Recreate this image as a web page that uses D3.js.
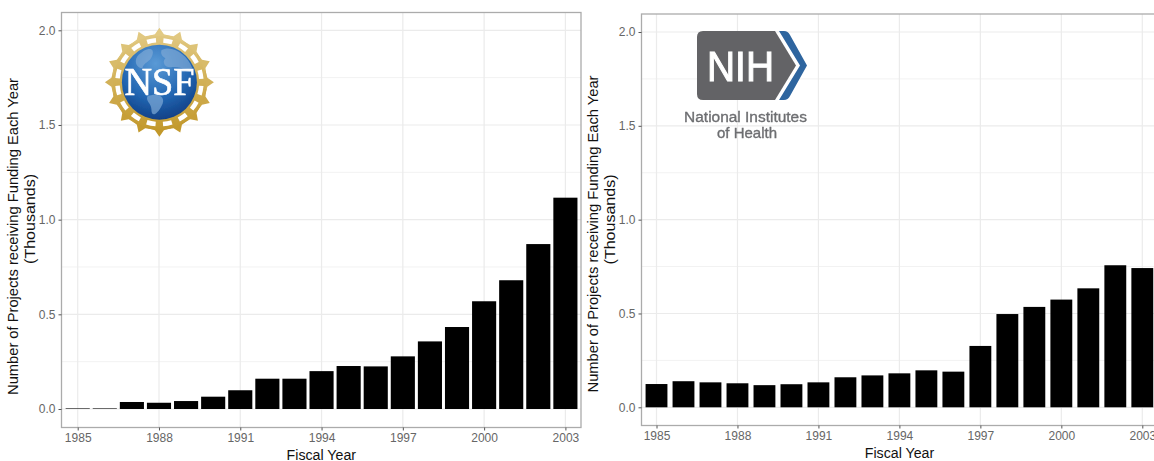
<!DOCTYPE html>
<html>
<head>
<meta charset="utf-8">
<script src="https://cdn.jsdelivr.net/npm/d3@7"></script>
<style>
    html, body { margin: 0; padding: 0; background: #fff; overflow: hidden; }
    svg { display: block; font-family: "Liberation Sans", Arial, sans-serif; }
</style>
</head>
<body>
<svg id="chart" width="1154" height="461"></svg>
<script>
// values, in thousands of projects
const years = [1985, 1986, 1987, 1988, 1989, 1990, 1991, 1992, 1993, 1994, 1995, 1996, 1997, 1998, 1999, 2000, 2001, 2002, 2003];
const nsfValues = [0.003, 0.003, 0.037, 0.033, 0.042, 0.065, 0.099, 0.16, 0.16, 0.2, 0.227, 0.225, 0.278, 0.357, 0.433, 0.569, 0.68, 0.871, 1.116];
const nihValues = [0.124, 0.139, 0.133, 0.128, 0.118, 0.123, 0.133, 0.16, 0.17, 0.181, 0.197, 0.19, 0.327, 0.497, 0.535, 0.574, 0.634, 0.757, 0.742];
const xTicks = [1985, 1988, 1991, 1994, 1997, 2000, 2003];
const yTicks = [0, 0.5, 1, 1.5, 2];
const yMinor = [0.25, 0.75, 1.25, 1.75];

const svg = d3.select("#chart");
const defs = svg.append("defs");

// logos are soft in the reference
defs.append("filter").attr("id", "soft")
    .append("feGaussianBlur").attr("stdDeviation", 0.45);

// stretch a text along its own direction to a measured width
function fitText(sel, transform, width) {
    const k = width / sel.node().getComputedTextLength();
    sel.attr("transform", transform + " scale(" + k + ",1)");
}

function drawPanel(values, box) {
    const x = d3.scaleLinear().domain([1985, 2003]).range([box.x1985, box.x2003]);
    const y = d3.scaleLinear().domain([0, 2]).range([box.y0, box.y2]);
    const barW = (x(1986) - x(1985)) * box.barFrac;
    const G = svg.append("g");

    // grid
    G.selectAll(".minor").data(yMinor).enter().append("line")
        .attr("x1", box.left).attr("x2", box.right)
        .attr("y1", d => y(d)).attr("y2", d => y(d))
        .attr("stroke", "#f2f2f2").attr("stroke-width", 1);
    G.selectAll(".majory").data(yTicks).enter().append("line")
        .attr("x1", box.left).attr("x2", box.right)
        .attr("y1", d => y(d)).attr("y2", d => y(d))
        .attr("stroke", "#ebebeb").attr("stroke-width", 1.2);
    G.selectAll(".majorx").data(xTicks).enter().append("line")
        .attr("x1", d => x(d)).attr("x2", d => x(d))
        .attr("y1", box.top).attr("y2", box.bottom)
        .attr("stroke", "#ebebeb").attr("stroke-width", 1.2);

    // bars
    G.selectAll(".bar").data(values).enter().append("rect")
        .attr("x", (d, i) => x(years[i]) - barW / 2)
        .attr("width", barW)
        .attr("y", d => y(d))
        .attr("height", d => y(0) - y(d))
        .attr("fill", "#000");

    // panel border
    G.append("rect")
        .attr("x", box.left).attr("y", box.top)
        .attr("width", box.right - box.left).attr("height", box.bottom - box.top)
        .attr("fill", "none").attr("stroke", "#ababab").attr("stroke-width", 1.3);

    // axes
    const xAxis = G.append("g")
        .attr("transform", "translate(0," + box.bottom + ")")
        .call(d3.axisBottom(x).tickValues(xTicks).tickFormat(d3.format("d")).tickSize(3).tickPadding(3));
    const yAxis = G.append("g")
        .attr("transform", "translate(" + box.left + ",0)")
        .call(d3.axisLeft(y).tickValues(yTicks).tickFormat(d3.format(".1f")).tickSize(3).tickPadding(3));
    [xAxis, yAxis].forEach(a => {
        a.select(".domain").remove();
        a.selectAll("line").attr("stroke", "#555");
        a.selectAll("text").attr("fill", "#666").attr("font-size", 12).attr("font-family", "Liberation Sans");
    });

    // titles
    const xt = G.append("text")
        .attr("text-anchor", "middle").attr("font-size", 15.3).attr("fill", "#111")
        .text("Fiscal Year");
    fitText(xt, "translate(" + box.xTitle + "," + box.xTitleY + ")", 69.5);
    const yt = G.append("text")
        .attr("text-anchor", "middle").attr("font-size", 15.3).attr("fill", "#111")
        .text("Number of Projects receiving Funding Each Year");
    fitText(yt, "translate(" + box.yTitle + "," + box.yTitleMid + ") rotate(-90)", 317);
    const yt2 = G.append("text")
        .attr("text-anchor", "middle").attr("font-size", 15.3).attr("fill", "#111")
        .text("(Thousands)");
    fitText(yt2, "translate(" + (box.yTitle + 17) + "," + box.yTitle2Mid + ") rotate(-90)", 90);
}

drawPanel(nsfValues, {
    left: 61.5, right: 581, top: 12.5, bottom: 427.5, barFrac: 0.89,
    x1985: 77.7, x2003: 565.4, y0: 409, y2: 30.3,
    xTitle: 321.3, xTitleY: 460, yTitle: 18, yTitleMid: 236.5, yTitle2Mid: 219
});
drawPanel(nihValues, {
    left: 641.5, right: 1160, top: 14, bottom: 425.5, barFrac: 0.81,
    x1985: 656.5, x2003: 1142.3, y0: 407.3, y2: 32,
    xTitle: 899.5, xTitleY: 458.3, yTitle: 597.7, yTitleMid: 234, yTitle2Mid: 219.5
});

// NSF logo
function drawNsfLogo(cx, cy) {
    const globe = defs.append("radialGradient").attr("id", "globe")
        .attr("cx", "45%").attr("cy", "25%").attr("r", "85%");
    globe.append("stop").attr("offset", "0%").attr("stop-color", "#5a9ad6");
    globe.append("stop").attr("offset", "55%").attr("stop-color", "#2266b2");
    globe.append("stop").attr("offset", "100%").attr("stop-color", "#0b3478");
    const gold = defs.append("linearGradient").attr("id", "gold")
        .attr("x1", 0).attr("x2", 0).attr("y1", 0).attr("y2", 1);
    gold.append("stop").attr("offset", "0%").attr("stop-color", "#e0c77f");
    gold.append("stop").attr("offset", "100%").attr("stop-color", "#c39a2e");
    const goldAt = d3.interpolateRgb("#e2ca84", "#c2982c");

    const L = svg.append("g").attr("transform", "translate(" + cx + "," + cy + ")")
        .attr("filter", "url(#soft)");
    // star points around the ring
    d3.range(16).forEach(i => {
        const a = i * 22.5;
        L.append("path")
            .attr("d", "M0,-54.5 L4.5,-48 L12,-46 L6,-41 L0,-38 L-6,-41 L-12,-46 L-4.5,-48 Z")
            .attr("transform", "rotate(" + a + ")")
            .attr("fill", goldAt((1 - Math.cos(a * Math.PI / 180)) / 2));
    });
    L.append("circle").attr("r", 46.5).attr("fill", "url(#gold)");
    L.append("circle").attr("r", 42).attr("fill", "none").attr("stroke", "#fff")
        .attr("stroke-width", 4.5).attr("stroke-dasharray", "9 7.49").attr("stroke-dashoffset", -3.75);
    L.append("circle").attr("r", 37.5).attr("fill", "url(#globe)");
    // rough landmasses
    L.append("path")
        .attr("d", "M-22,-26 C-14,-35 -4,-36 -7,-27 C-9,-20 -16,-20 -17,-14 C-22,-14 -26,-20 -22,-26 Z M2,-32 C12,-38 28,-28 33,-14 C24,-12 18,-16 12,-15 C6,-14 2,-20 6,-24 C3,-26 1,-28 2,-32 Z M-12,14 C-2,10 8,14 2,24 C-2,32 -8,36 -8,27 C-8,21 -14,19 -12,14 Z")
        .attr("fill", "#7fa9d6").attr("opacity", 0.7);
    const t = L.append("text").attr("text-anchor", "middle")
        .attr("font-family", "Liberation Serif").attr("font-size", 41)
        .attr("fill", "#fff").attr("stroke", "#fff").attr("stroke-width", 0.7)
        .text("NSF");
    fitText(t, "translate(0,13.2)", 70);
}
drawNsfLogo(159.4, 82.2);

// NIH logo
function drawNihLogo() {
    const L = svg.append("g").attr("filter", "url(#soft)");
    L.append("path")
        .attr("d", "M703,31 L775,31 L796,65.5 L775,100 L703,100 Q697,100 697,94 L697,37 Q697,31 703,31 Z")
        .attr("fill", "#636466");
    L.append("path")
        .attr("d", "M779,31 L784,31 Q788,31 790,35 L807,65.5 L790,96 Q788,100 784,100 L779,100 L800,65.5 Z")
        .attr("fill", "#2f659f");
    const nih = L.append("text").attr("text-anchor", "middle")
        .attr("font-size", 42).attr("fill", "#fff").attr("stroke", "#fff").attr("stroke-width", 1)
        .text("NIH");
    fitText(nih, "translate(740.5,80.5)", 67);
    const l1 = L.append("text").attr("text-anchor", "middle")
        .attr("font-size", 15).attr("fill", "#6d6e71").attr("stroke", "#6d6e71").attr("stroke-width", 0.35)
        .text("National Institutes");
    fitText(l1, "translate(745.5,121.5)", 123);
    L.append("text").attr("x", 747).attr("y", 138).attr("text-anchor", "middle")
        .attr("font-size", 15).attr("fill", "#6d6e71").attr("stroke", "#6d6e71").attr("stroke-width", 0.35)
        .text("of Health");
}
drawNihLogo();
</script>
</body>
</html>
